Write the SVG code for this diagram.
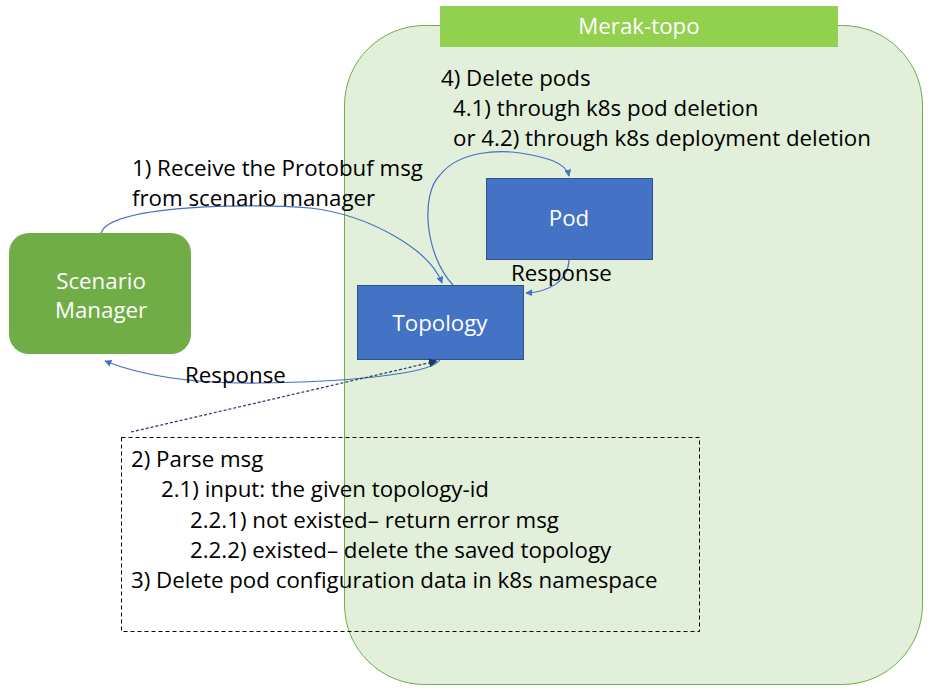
<svg xmlns="http://www.w3.org/2000/svg" width="932" height="690" viewBox="0 0 932 690">
<defs>
<marker id="ab" viewBox="0 0 10 10" refX="9" refY="5" markerWidth="7" markerHeight="7" orient="auto-start-reverse" markerUnits="userSpaceOnUse"><path d="M0,0 L10,5 L0,10 z" fill="#4472C4"/></marker>
<marker id="ad" viewBox="0 0 10 10" refX="9" refY="5" markerWidth="9" markerHeight="9" orient="auto" markerUnits="userSpaceOnUse"><path d="M0,0 L10,5 L0,10 z" fill="#1F3864"/></marker>
<style>
text{font-family:"Open Sans","Liberation Sans",sans-serif;font-size:22.3px;fill:#000}
.w{fill:#fff;text-anchor:middle}
.c{fill:none;stroke:#4472C4;stroke-width:1.2}
.b{fill:#4472C4;stroke:#2F528F;stroke-width:1}
</style>
</defs>
<g id="merak-topo">
<rect x="344.5" y="25.5" width="578" height="659" rx="80" ry="80" fill="#E2EFDA" stroke="#70AD47" stroke-width="1"/>
<rect x="440" y="6" width="398" height="41" fill="#92D050"/>
<text class="w" x="639" y="34">Merak-topo</text>
</g>
<g id="scenario-manager">
<rect x="9" y="233" width="182" height="121" rx="20" fill="#70AD47"/>
<text class="w" x="101" y="289">Scenario</text>
<text class="w" x="101" y="318">Manager</text>
</g>
<g id="pod">
<rect class="b" x="486.5" y="178.5" width="166" height="81"/>
<text class="w" x="569" y="226">Pod</text>
</g>
<g id="topology">
<rect class="b" x="357.5" y="285.5" width="166" height="74"/>
<text class="w" x="440" y="331">Topology</text>
</g>
<g id="notes">
<rect x="121.5" y="437.5" width="578" height="194" fill="none" stroke="#000" stroke-width="1" stroke-dasharray="4,3"/>
<text x="131" y="467">2) Parse msg</text>
<text x="161" y="497">2.1) input: the given topology-id</text>
<text x="190" y="528">2.2.1) not existed– return error msg</text>
<text x="190" y="558">2.2.2) existed– delete the saved topology</text>
<text x="131" y="588">3) Delete pod configuration data in k8s namespace</text>
</g>
<g id="connectors">
<path class="c" d="M101,233 C110,205 250,203 310,208 C370,215 430,250 442,283" marker-end="url(#ab)"/>
<path class="c" d="M453,285 C425,255 420,195 440,175 C460,150 500,150 520,153 C545,157 566,162 569,176" marker-end="url(#ab)"/>
<path class="c" d="M569,260 C568,282 548,292 526,293" marker-end="url(#ab)"/>
<path class="c" d="M440,360 C430,375 340,382 260,383 C190,384 140,375 105,361" marker-end="url(#ab)"/>
<path d="M131,432 L437,361" fill="none" stroke="#1F3864" stroke-width="1.2" stroke-dasharray="3,2" marker-end="url(#ad)"/>
</g>
<g id="labels">
<text x="132" y="176">1) Receive the Protobuf msg</text>
<text x="132" y="206">from scenario manager</text>
<text x="441" y="86">4) Delete pods</text>
<text x="453" y="116">4.1) through k8s pod deletion</text>
<text x="453" y="146">or 4.2) through k8s deployment deletion</text>
<text x="511" y="281">Response</text>
<text x="185" y="383">Response</text>
</g>
</svg>
